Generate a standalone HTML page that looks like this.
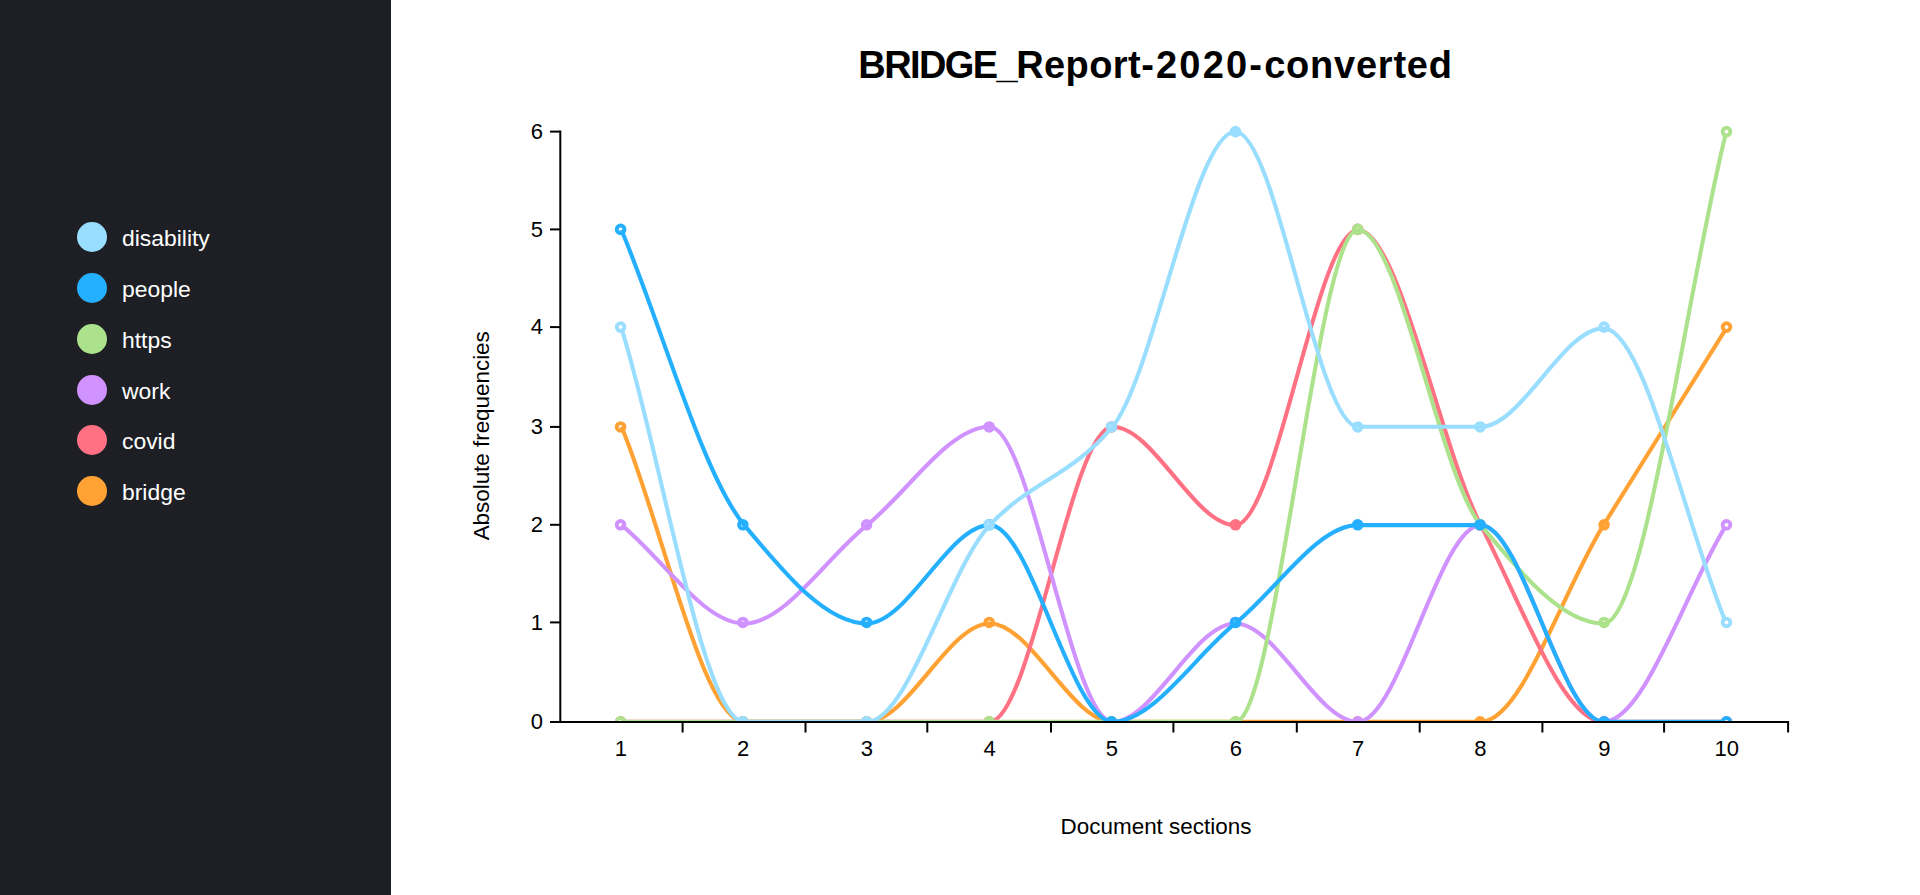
<!DOCTYPE html>
<html lang="en"><head><meta charset="utf-8"><title>BRIDGE_Report-2020-converted</title>
<style>
html,body{margin:0;padding:0;}
body{width:1920px;height:895px;overflow:hidden;background:#fff;position:relative;font-family:"Liberation Sans",sans-serif;}
#side{position:absolute;left:0;top:0;width:391px;height:895px;background:#1e1f25;}
.li{position:absolute;left:77px;height:30px;white-space:nowrap;}
.dot{position:absolute;left:0;top:0;width:30px;height:30px;border-radius:50%;}
.lt{position:absolute;left:45px;top:1px;line-height:30px;font-size:22.9px;color:#fff;}
h1{position:absolute;left:391px;width:1529px;top:0;margin:0;text-align:center;font-size:38px;line-height:44px;font-weight:bold;color:#000;white-space:nowrap;letter-spacing:0.42px;}
h1 .t{position:relative;top:42.6px;display:inline-block;}
#chart{position:absolute;left:0;top:0;}
</style></head><body>
<div id="side">
<div class="li" style="top:222.2px"><span class="dot" style="background:#99ddff"></span><span class="lt">disability</span></div>
<div class="li" style="top:273.0px"><span class="dot" style="background:#25b0ff"></span><span class="lt">people</span></div>
<div class="li" style="top:323.8px"><span class="dot" style="background:#abe28b"></span><span class="lt">https</span></div>
<div class="li" style="top:374.6px"><span class="dot" style="background:#d092ff"></span><span class="lt">work</span></div>
<div class="li" style="top:425.4px"><span class="dot" style="background:#ff7183"></span><span class="lt">covid</span></div>
<div class="li" style="top:476.2px"><span class="dot" style="background:#ffa233"></span><span class="lt">bridge</span></div>
</div>
<h1><span class="t"><span style="letter-spacing:-1.58px">BRIDGE_</span>Report<span style="letter-spacing:2.2px">-2020-</span><span style="letter-spacing:0.77px">converted</span></span></h1>
<svg id="chart" width="1920" height="895" viewBox="0 0 1920 895">
<defs><clipPath id="clip"><rect x="391" y="0" width="1529" height="722.20"/></clipPath></defs>
<g clip-path="url(#clip)" fill="none">
<g stroke="#ffa233">
<g fill="#fff" stroke-width="3.85"><circle cx="620.60" cy="426.90" r="3.85"/><circle cx="742.90" cy="721.80" r="3.85"/><circle cx="866.60" cy="721.80" r="3.85"/><circle cx="989.20" cy="622.40" r="3.85"/><circle cx="1111.50" cy="721.80" r="3.85"/><circle cx="1235.50" cy="721.80" r="3.85"/><circle cx="1357.70" cy="721.80" r="3.85"/><circle cx="1480.10" cy="721.80" r="3.85"/><circle cx="1604.10" cy="524.80" r="3.85"/></g>
<path d="M621.50,426.75C662.42,525.10,703.33,721.80,744.25,721.80C785.17,721.80,826.08,721.80,867.00,721.80C907.92,721.80,948.83,623.45,989.75,623.45C1030.67,623.45,1071.58,721.80,1112.50,721.80C1153.42,721.80,1194.33,721.80,1235.25,721.80C1276.17,721.80,1317.08,721.80,1358.00,721.80C1398.92,721.80,1439.83,721.80,1480.75,721.80C1521.67,721.80,1562.58,590.67,1603.50,525.10C1644.42,459.53,1685.33,393.97,1726.25,328.40" stroke-width="4.1" stroke-linejoin="round"/>
<circle cx="1726.50" cy="327.10" r="3.85" fill="#fff" stroke-width="3.85"/>
</g>
<g stroke="#ff7183">
<g fill="#fff" stroke-width="3.85"><circle cx="620.60" cy="721.80" r="3.85"/><circle cx="742.90" cy="721.80" r="3.85"/><circle cx="866.60" cy="721.80" r="3.85"/><circle cx="989.20" cy="721.80" r="3.85"/><circle cx="1111.50" cy="426.90" r="3.85"/><circle cx="1235.50" cy="524.80" r="3.85"/><circle cx="1357.70" cy="229.40" r="3.85"/><circle cx="1480.10" cy="524.80" r="3.85"/><circle cx="1604.10" cy="721.80" r="3.85"/></g>
<path d="M621.50,721.80C662.42,721.80,703.33,721.80,744.25,721.80C785.17,721.80,826.08,721.80,867.00,721.80C907.92,721.80,948.83,721.80,989.75,721.80C1030.67,721.80,1071.58,426.75,1112.50,426.75C1153.42,426.75,1194.33,525.10,1235.25,525.10C1276.17,525.10,1317.08,230.05,1358.00,230.05C1398.92,230.05,1439.83,446.42,1480.75,525.10C1521.67,603.78,1562.58,721.80,1603.50,721.80C1644.42,721.80,1685.33,721.80,1726.25,721.80" stroke-width="4.1" stroke-linejoin="round"/>
<circle cx="1726.50" cy="721.80" r="3.85" fill="#fff" stroke-width="3.85"/>
</g>
<g stroke="#d092ff">
<g fill="#fff" stroke-width="3.85"><circle cx="620.60" cy="524.80" r="3.85"/><circle cx="742.90" cy="622.40" r="3.85"/><circle cx="866.60" cy="524.80" r="3.85"/><circle cx="989.20" cy="426.90" r="3.85"/><circle cx="1111.50" cy="721.80" r="3.85"/><circle cx="1235.50" cy="622.40" r="3.85"/><circle cx="1357.70" cy="721.80" r="3.85"/><circle cx="1480.10" cy="524.80" r="3.85"/><circle cx="1604.10" cy="721.80" r="3.85"/></g>
<path d="M621.50,525.10C662.42,557.88,703.33,623.45,744.25,623.45C785.17,623.45,826.08,557.88,867.00,525.10C907.92,492.32,948.83,426.75,989.75,426.75C1030.67,426.75,1071.58,721.80,1112.50,721.80C1153.42,721.80,1194.33,623.45,1235.25,623.45C1276.17,623.45,1317.08,721.80,1358.00,721.80C1398.92,721.80,1439.83,525.10,1480.75,525.10C1521.67,525.10,1562.58,721.80,1603.50,721.80C1644.42,721.80,1685.33,590.67,1726.25,525.10" stroke-width="4.1" stroke-linejoin="round"/>
<circle cx="1726.50" cy="524.80" r="3.85" fill="#fff" stroke-width="3.85"/>
</g>
<g stroke="#abe28b">
<g fill="#fff" stroke-width="3.85"><circle cx="620.60" cy="721.80" r="3.85"/><circle cx="742.90" cy="721.80" r="3.85"/><circle cx="866.60" cy="721.80" r="3.85"/><circle cx="989.20" cy="721.80" r="3.85"/><circle cx="1111.50" cy="721.80" r="3.85"/><circle cx="1235.50" cy="721.80" r="3.85"/><circle cx="1357.70" cy="229.40" r="3.85"/><circle cx="1480.10" cy="524.80" r="3.85"/><circle cx="1604.10" cy="622.40" r="3.85"/></g>
<path d="M621.50,721.80C662.42,721.80,703.33,721.80,744.25,721.80C785.17,721.80,826.08,721.80,867.00,721.80C907.92,721.80,948.83,721.80,989.75,721.80C1030.67,721.80,1071.58,721.80,1112.50,721.80C1153.42,721.80,1194.33,721.80,1235.25,721.80C1276.17,721.80,1317.08,230.05,1358.00,230.05C1398.92,230.05,1439.83,475.92,1480.75,525.10C1521.67,574.27,1562.58,623.45,1603.50,623.45C1644.42,623.45,1685.33,295.62,1726.25,131.70" stroke-width="4.1" stroke-linejoin="round"/>
<circle cx="1726.50" cy="131.60" r="3.85" fill="#fff" stroke-width="3.85"/>
</g>
<g stroke="#25b0ff">
<g fill="#fff" stroke-width="3.85"><circle cx="620.60" cy="229.40" r="3.85"/><circle cx="742.90" cy="524.80" r="3.85"/><circle cx="866.60" cy="622.40" r="3.85"/><circle cx="989.20" cy="524.80" r="3.85"/><circle cx="1111.50" cy="721.80" r="3.85"/><circle cx="1235.50" cy="622.40" r="3.85"/><circle cx="1357.70" cy="524.80" r="3.85"/><circle cx="1480.10" cy="524.80" r="3.85"/><circle cx="1604.10" cy="721.80" r="3.85"/></g>
<path d="M621.50,230.05C662.42,328.40,703.33,475.92,744.25,525.10C785.17,574.27,826.08,623.45,867.00,623.45C907.92,623.45,948.83,525.10,989.75,525.10C1030.67,525.10,1071.58,721.80,1112.50,721.80C1153.42,721.80,1194.33,656.23,1235.25,623.45C1276.17,590.67,1317.08,525.10,1358.00,525.10C1398.92,525.10,1439.83,525.10,1480.75,525.10C1521.67,525.10,1562.58,721.80,1603.50,721.80C1644.42,721.80,1685.33,721.80,1726.25,721.80" stroke-width="4.1" stroke-linejoin="round"/>
<circle cx="1726.50" cy="721.80" r="3.85" fill="#fff" stroke-width="3.85"/>
</g>
<g stroke="#99ddff">
<g fill="#fff" stroke-width="3.85"><circle cx="620.60" cy="327.10" r="3.85"/><circle cx="742.90" cy="721.80" r="3.85"/><circle cx="866.60" cy="721.80" r="3.85"/><circle cx="989.20" cy="524.80" r="3.85"/><circle cx="1111.50" cy="426.90" r="3.85"/><circle cx="1235.50" cy="131.60" r="3.85"/><circle cx="1357.70" cy="426.90" r="3.85"/><circle cx="1480.10" cy="426.90" r="3.85"/><circle cx="1604.10" cy="327.10" r="3.85"/></g>
<path d="M621.50,328.40C662.42,459.53,703.33,721.80,744.25,721.80C785.17,721.80,826.08,721.80,867.00,721.80C907.92,721.80,948.83,568.81,989.75,525.10C1030.67,481.39,1071.58,475.92,1112.50,426.75C1153.42,377.58,1194.33,131.70,1235.25,131.70C1276.17,131.70,1317.08,426.75,1358.00,426.75C1398.92,426.75,1439.83,426.75,1480.75,426.75C1521.67,426.75,1562.58,328.40,1603.50,328.40C1644.42,328.40,1685.33,525.10,1726.25,623.45" stroke-width="4.1" stroke-linejoin="round"/>
<circle cx="1726.50" cy="622.40" r="3.85" fill="#fff" stroke-width="3.85"/>
</g>
</g>
<g stroke="#000" stroke-width="2" fill="none" shape-rendering="auto">
<line x1="560.3" y1="130.60" x2="560.3" y2="723.00"/>
<line x1="550.0" y1="722.00" x2="1789.10" y2="722.00"/>
<line x1="550.0" y1="622.40" x2="560.0" y2="622.40"/>
<line x1="550.0" y1="524.80" x2="560.0" y2="524.80"/>
<line x1="550.0" y1="426.90" x2="560.0" y2="426.90"/>
<line x1="550.0" y1="327.10" x2="560.0" y2="327.10"/>
<line x1="550.0" y1="229.40" x2="560.0" y2="229.40"/>
<line x1="550.0" y1="131.60" x2="560.0" y2="131.60"/>
<line x1="682.60" y1="722.00" x2="682.60" y2="732.50"/>
<line x1="805.50" y1="722.00" x2="805.50" y2="732.50"/>
<line x1="927.30" y1="722.00" x2="927.30" y2="732.50"/>
<line x1="1051.00" y1="722.00" x2="1051.00" y2="732.50"/>
<line x1="1173.40" y1="722.00" x2="1173.40" y2="732.50"/>
<line x1="1296.80" y1="722.00" x2="1296.80" y2="732.50"/>
<line x1="1419.70" y1="722.00" x2="1419.70" y2="732.50"/>
<line x1="1542.40" y1="722.00" x2="1542.40" y2="732.50"/>
<line x1="1664.10" y1="722.00" x2="1664.10" y2="732.50"/>
<line x1="1788.10" y1="722.00" x2="1788.10" y2="732.50"/>
</g>
<g font-family="'Liberation Sans', sans-serif" font-size="22" fill="#000">
<text x="543" y="729.10" text-anchor="end">0</text>
<text x="543" y="629.70" text-anchor="end">1</text>
<text x="543" y="532.10" text-anchor="end">2</text>
<text x="543" y="434.20" text-anchor="end">3</text>
<text x="543" y="334.40" text-anchor="end">4</text>
<text x="543" y="236.70" text-anchor="end">5</text>
<text x="543" y="138.90" text-anchor="end">6</text>
<text x="620.90" y="755.9" text-anchor="middle">1</text>
<text x="743.20" y="755.9" text-anchor="middle">2</text>
<text x="866.90" y="755.9" text-anchor="middle">3</text>
<text x="989.50" y="755.9" text-anchor="middle">4</text>
<text x="1111.80" y="755.9" text-anchor="middle">5</text>
<text x="1235.80" y="755.9" text-anchor="middle">6</text>
<text x="1358.00" y="755.9" text-anchor="middle">7</text>
<text x="1480.40" y="755.9" text-anchor="middle">8</text>
<text x="1604.40" y="755.9" text-anchor="middle">9</text>
<text x="1726.80" y="755.9" text-anchor="middle">10</text>
<text x="1156" y="834.4" text-anchor="middle" font-size="22.45">Document sections</text>
<text transform="translate(488.8 435.8) rotate(-90)" text-anchor="middle" font-size="22.4">Absolute frequencies</text>
</g>
</svg>
</body></html>
